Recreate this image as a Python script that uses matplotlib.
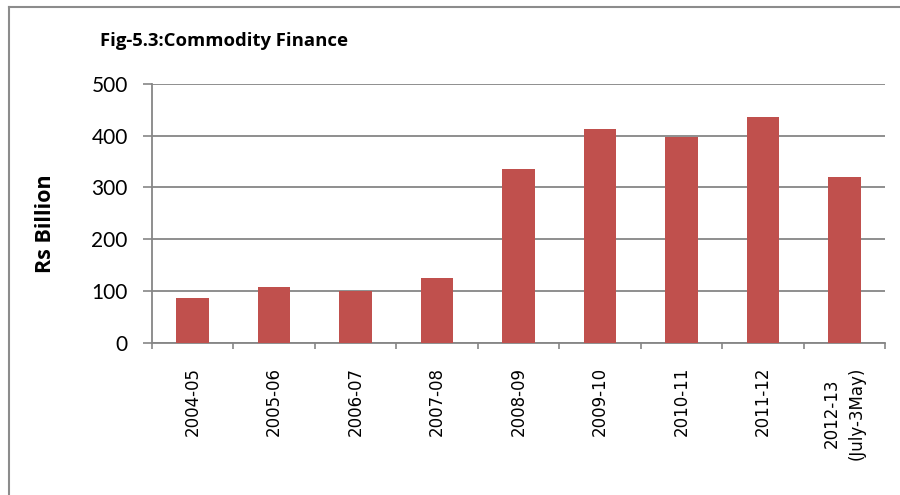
import numpy as np
import matplotlib
matplotlib.use("Agg")
import matplotlib.pyplot as plt
from matplotlib.lines import Line2D

plt.rcParams['font.family'] = ['Lato', 'DejaVu Sans']

# commodity finance, Rs billion
years = ['2004-05', '2005-06', '2006-07', '2007-08', '2008-09',
         '2009-10', '2010-11', '2011-12', '2012-13\n(July-3May)']
values = [87, 107, 99, 124, 335, 413, 397, 436, 321]
yticks = [0, 100, 200, 300, 400, 500]

bar_col = '#C0504D'
axis_col = '#868686'

fig = plt.figure(figsize=(9, 4.95), dpi=100)
ax = fig.add_axes([0.1689, 0.308, 0.8144, 0.5222])

x = np.arange(len(years))
ax.bar(x, values, width=0.4, color=bar_col, zorder=3)

ax.set_xlim(-0.5, len(years) - 0.5)
ax.set_ylim(0, 500)
ax.set_yticks(yticks)
ax.tick_params(axis='y', direction='out', length=6.5, width=1.2,
               color=axis_col, pad=11, labelsize=15)
ax.yaxis.grid(True, color=axis_col, linewidth=1.3, zorder=0)

# category labels in the middle, tick marks on the boundaries
ax.set_xticks(x)
ax.set_xticks(np.arange(len(years) + 1) - 0.5, minor=True)
ax.tick_params(axis='x', which='major', length=0, pad=17.5,
               labelsize=12, labelfontfamily='DejaVu Sans')
ax.tick_params(axis='x', which='minor', direction='out', length=4.3,
               width=1.2, color=axis_col)
ax.set_xticklabels(years, rotation=90, va='top', ha='center',
                   multialignment='center')
ax.get_xticklabels()[-1].set_linespacing(1.5)

for s in ['top', 'right']:
    ax.spines[s].set_visible(False)
for s in ['left', 'bottom']:
    ax.spines[s].set_color(axis_col)
    ax.spines[s].set_linewidth(1.3)

ax.set_ylabel('Rs Billion', fontsize=15.5, fontweight='bold',
              family='Open Sans')
ax.yaxis.set_label_coords(-0.131, 0.46)

fig.text(100 / 900, 1 - 41 / 495, 'Fig-5.3:Commodity Finance', fontsize=13.3,
         fontweight='bold', va='center', ha='left', family='Open Sans')

# chart border (top and left edges show)
fig.add_artist(Line2D([9 / 900, 1], [1 - 7 / 495] * 2, color='#8c8c8c',
                      linewidth=1.5, transform=fig.transFigure))
fig.add_artist(Line2D([9 / 900] * 2, [0, 1 - 7 / 495], color='#8c8c8c',
                      linewidth=1.5, transform=fig.transFigure))

fig.savefig('out.png', dpi=100)
